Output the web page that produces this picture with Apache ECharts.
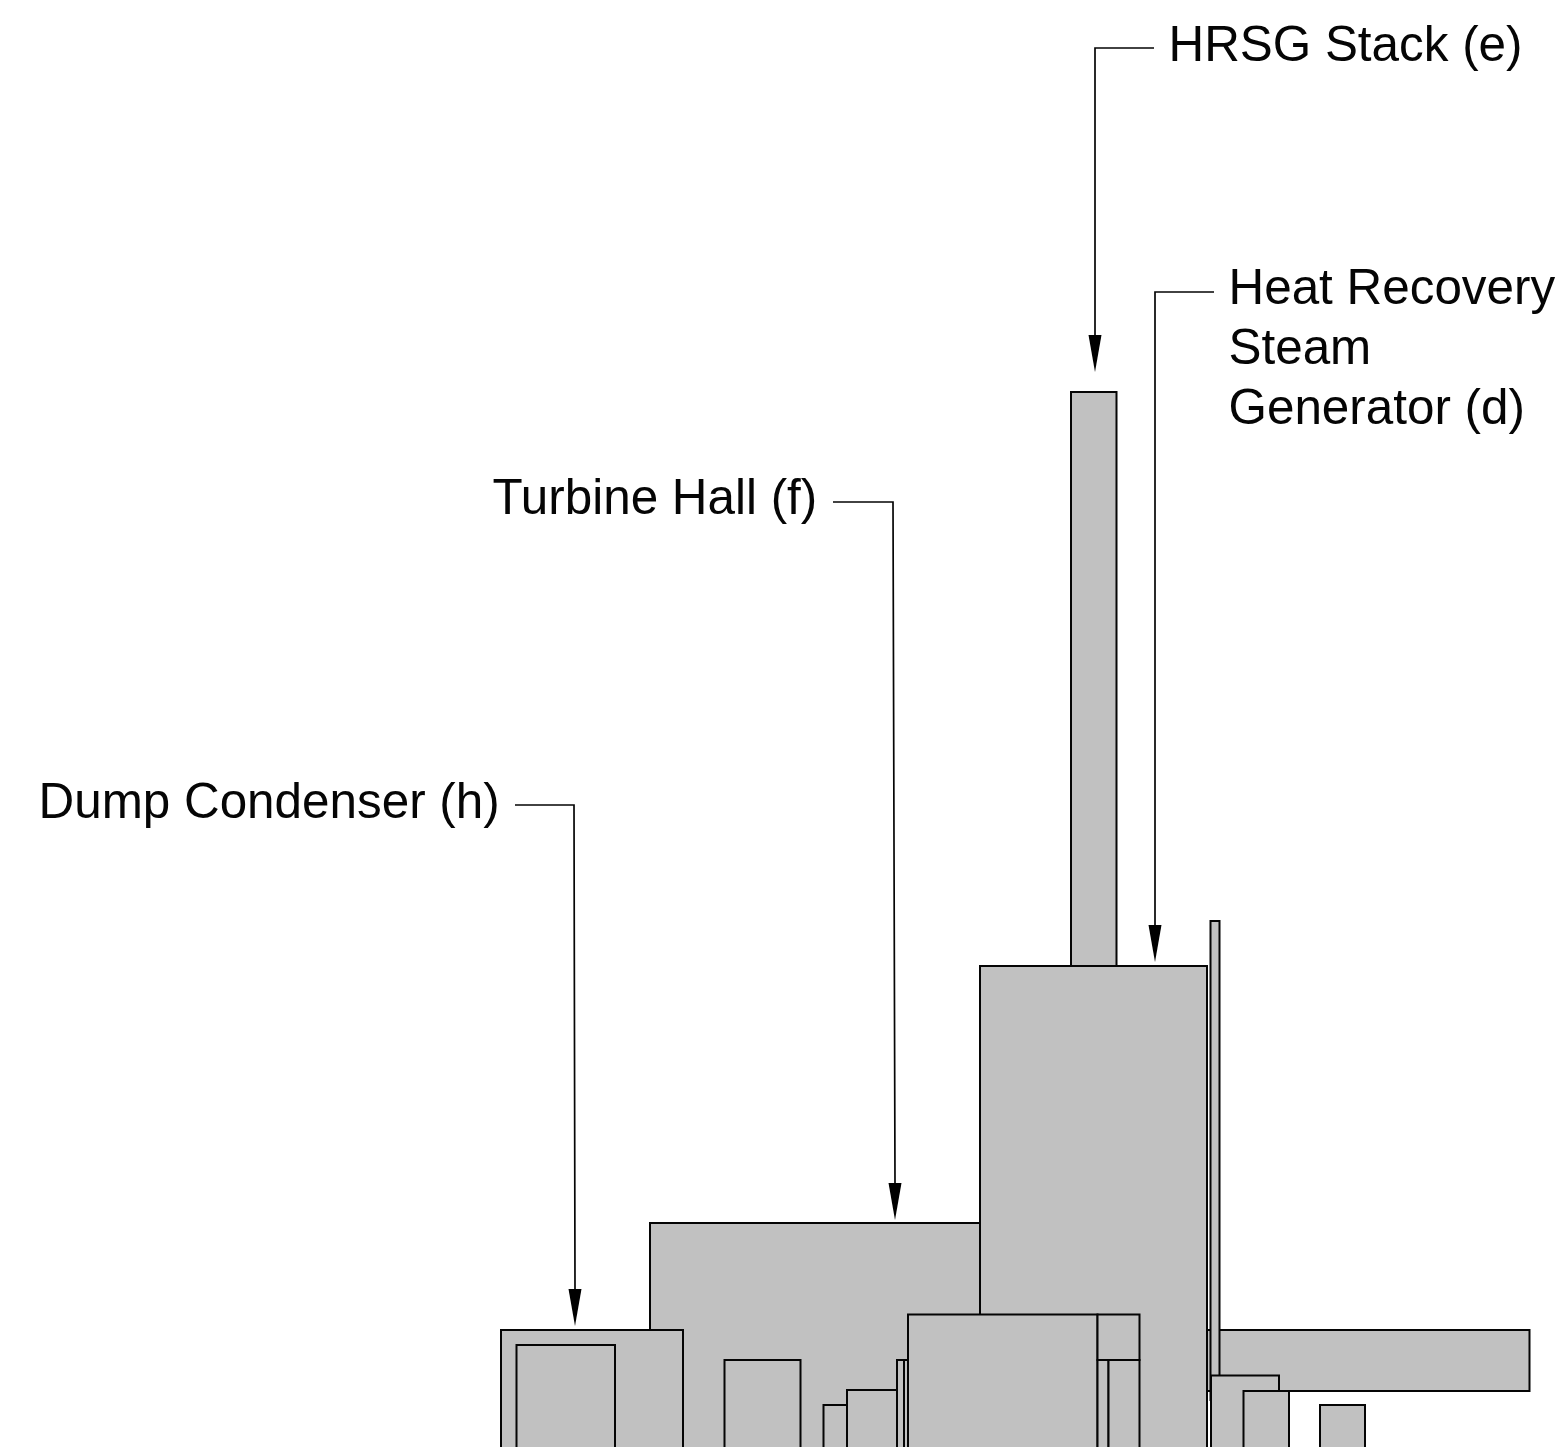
<!DOCTYPE html>
<html>
<head>
<meta charset="utf-8">
<title>Plant elevation</title>
<style>
    html, body { margin: 0; padding: 0; background: #fff; }
    #chart { width: 1558px; height: 1447px; }
</style>
<script src="https://cdn.jsdelivr.net/npm/echarts@6/dist/echarts.min.js"></script>
</head>
<body>
<div id="chart"></div>
<script>
// buildings, back to front: [left, right, top, bottom] read in picture units
const buildings = [
    [1150, 1529.5, 1330, 1391],
    [1210.5, 1219.5, 921, 1400],
    [650, 980, 1223, 1460],
    [501, 683, 1330, 1460],
    [516.5, 615, 1345, 1460],
    [724.5, 800.5, 1360, 1460],
    [823.5, 860, 1405, 1460],
    [847, 897, 1390, 1460],
    [897, 904, 1360, 1460],
    [904, 908, 1360, 1460],
    [1071, 1116.5, 392, 966],
    [980, 1207, 966, 1460],
    [908, 1097.5, 1314.5, 1460],
    [1097.5, 1139.5, 1314.5, 1360],
    [1097.5, 1108.5, 1360, 1460],
    [1108.5, 1139.5, 1360, 1460],
    [1211, 1279, 1375.5, 1460],
    [1243.5, 1289, 1391, 1460],
    [1320, 1365, 1405, 1460]
];

// leader lines: [label end x, label end y, elbow x, elbow y, tip x, tip y]
const leaders = [
    [1154, 48, 1095, 48, 1095, 372],
    [1214, 292, 1155, 292, 1155, 962],
    [833, 502, 893, 502, 895, 1220],
    [515, 805, 574, 805, 575, 1326]
];

const labelTexts = ['HRSG Stack (e)', 'Heat Recovery', 'Steam', 'Generator (d)', 'Turbine Hall (f)', 'Dump Condenser (h)'];
const labelX = [1168.5, 1228.5, 1228.5, 1228.5, 492.5, 38.5];
const labelBaseline = [62, 305, 365, 425, 515, 819];

(function (echarts) {
    'use strict';

    const arrowLength = 37;
    const arrowHalfWidth = 6.5;
    const labelAscent = 39;
    const ink = '#050505';

    const renderBuilding = function (params, api) {
        const topLeft = api.coord([api.value(0), api.value(2)]);
        const bottomRight = api.coord([api.value(1), api.value(3)]);
        return {
            type: 'rect',
            shape: {
                x: topLeft[0],
                y: topLeft[1],
                width: bottomRight[0] - topLeft[0],
                height: bottomRight[1] - topLeft[1]
            },
            style: {fill: '#c1c1c1', stroke: ink, lineWidth: 2}
        };
    };

    const renderLeader = function (params, api) {
        const start = api.coord([api.value(0), api.value(1)]);
        const elbow = api.coord([api.value(2), api.value(3)]);
        const tip = api.coord([api.value(4), api.value(5)]);
        return {
            type: 'group',
            children: [{
                type: 'polyline',
                shape: {points: [start, elbow, [tip[0], tip[1] - arrowLength]]},
                style: {fill: 'none', stroke: ink, lineWidth: 1.7}
            }, {
                type: 'polygon',
                shape: {
                    points: [
                        [tip[0] - arrowHalfWidth, tip[1] - arrowLength],
                        [tip[0] + arrowHalfWidth, tip[1] - arrowLength],
                        tip
                    ]
                },
                style: {fill: '#000'}
            }]
        };
    };

    const renderLabel = function (params, api) {
        const pos = api.coord([api.value(0), api.value(1)]);
        return {
            type: 'text',
            x: pos[0],
            y: pos[1] - labelAscent,
            style: {
                text: labelTexts[params.dataIndex],
                fill: '#050505',
                font: '49.4px "Liberation Sans", Arial, sans-serif',
                textAlign: 'left'
            }
        };
    };

    const handle = echarts.init(document.getElementById('chart'), null, {renderer: 'canvas'});
    handle.setOption({
        backgroundColor: '#fff',
        animation: false,
        grid: {left: 0, right: 0, top: 0, bottom: 0},
        xAxis: {type: 'value', min: 0, max: 1558, show: false},
        yAxis: {type: 'value', min: 0, max: 1447, inverse: true, show: false},
        series: [{
            type: 'custom',
            name: 'buildings',
            clip: true,
            silent: true,
            renderItem: renderBuilding,
            data: buildings
        }, {
            type: 'custom',
            name: 'leaders',
            silent: true,
            renderItem: renderLeader,
            data: leaders
        }, {
            type: 'custom',
            name: 'labels',
            silent: true,
            renderItem: renderLabel,
            data: labelX.map(function (x, i) {
                return [x, labelBaseline[i]];
            })
        }]
    });
})(echarts);
</script>
</body>
</html>
